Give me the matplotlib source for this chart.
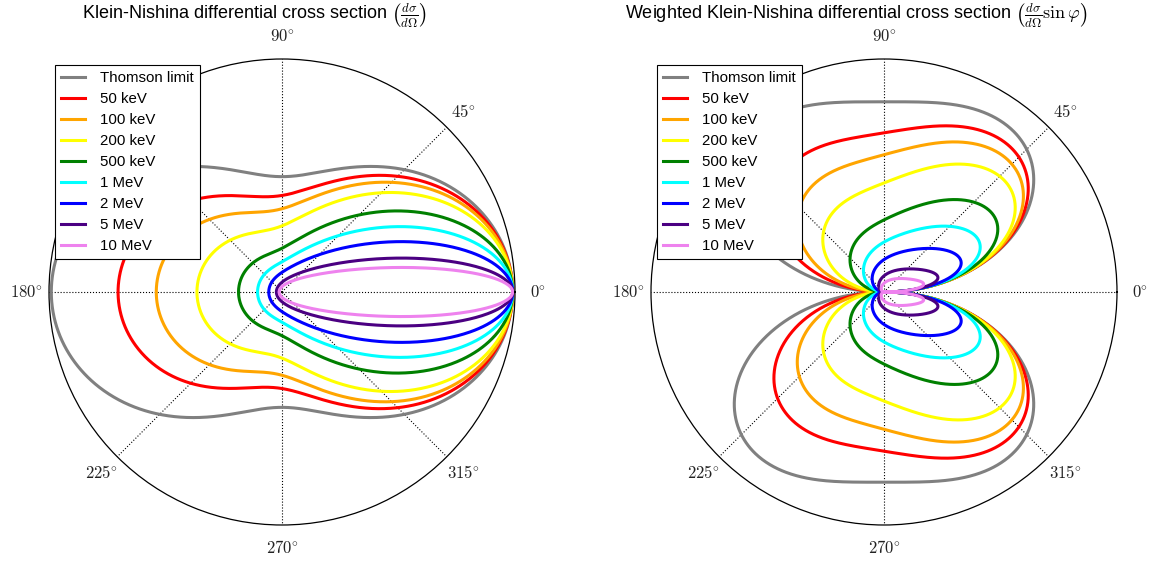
import numpy as np
import matplotlib
matplotlib.use('Agg')
import matplotlib.pyplot as plt

plt.rcParams['font.family'] = ['Liberation Sans', 'DejaVu Sans']
plt.rcParams['mathtext.fontset'] = 'cm'

# photon energies in keV (0 -> Thomson limit)
energies_kev = [0, 50, 100, 200, 500, 1000, 2000, 5000, 10000]
labels = ['Thomson limit', '50 keV', '100 keV', '200 keV', '500 keV',
          '1 MeV', '2 MeV', '5 MeV', '10 MeV']
colors = ['gray', 'red', 'orange', 'yellow', 'green', 'cyan', 'blue',
          'indigo', 'violet']

ME_C2 = 511.0  # electron rest energy, keV

angle_ticks = [0, 45, 90, 135, 180, 225, 270, 315]
angle_labels = ['$%d\\!^\\circ$' % a for a in angle_ticks]
angle_labels[3] = ''  # hidden behind the legend anyway


def klein_nishina(theta, e_kev):
    # differential cross section in units of r_e^2
    eps = e_kev / ME_C2
    p = 1.0 / (1.0 + eps * (1.0 - np.cos(theta)))
    return 0.5 * p**2 * (p + 1.0 / p - np.sin(theta)**2)


def style_axis(ax, rmax):
    ax.set_ylim(0, rmax)
    ax.set_yticks([])
    ax.set_thetagrids(angle_ticks, angle_labels, fontsize=12, color='#222222')
    ax.tick_params(axis='x', pad=6)
    ax.grid(True, linestyle=':', color='black', linewidth=0.8)
    ax.spines['polar'].set_linewidth(0.9)
    leg = ax.legend(loc='upper left', fontsize=10.8, labelspacing=0.47,
                    handlelength=1.6, handletextpad=1.0, borderaxespad=0.4,
                    fancybox=False, framealpha=1.0, edgecolor='black')
    leg.get_frame().set_linewidth(0.8)


theta = np.linspace(0, 2 * np.pi, 1441)

fig = plt.figure(figsize=(11.56, 5.62), dpi=100)
ax1 = fig.add_axes([49 / 1156, 37 / 562, 466 / 1156, 466 / 562], projection='polar')
ax2 = fig.add_axes([651 / 1156, 37 / 562, 466 / 1156, 466 / 562], projection='polar')

for e, lab, c in zip(energies_kev, labels, colors):
    ds = klein_nishina(theta, e)
    ax1.plot(theta, ds, color=c, lw=2.2, label=lab)
    ax2.plot(theta, ds * np.abs(np.sin(theta)), color=c, lw=2.2, label=lab)

style_axis(ax1, 1.01)
style_axis(ax2, 0.6125)

ax1.set_title(r'Klein-Nishina differential cross section $\left(\frac{d\sigma}{d\Omega}\right)$',
              fontsize=13, x=0.44, y=1.07)
ax2.set_title(r'Weighted Klein-Nishina differential cross section '
              r'$\left(\frac{d\sigma}{d\Omega}\sin\varphi\right)$',
              fontsize=13, x=0.44, y=1.07)

fig.savefig('out.png', dpi=100)
